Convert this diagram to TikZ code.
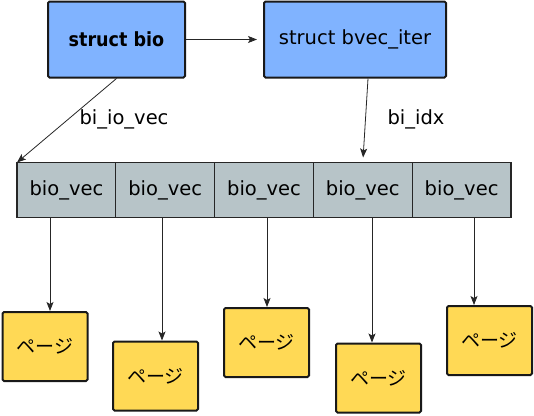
\documentclass[tikz,border=0pt]{standalone}
\usepackage{fontspec}
\setmainfont{DejaVu Sans}
\newfontfamily\condfont[FakeStretch=0.9]{DejaVu Sans}
\newfontfamily\jpfont{Noto Sans CJK JP}
\usetikzlibrary{positioning,arrows.meta}
\definecolor{structblue}{HTML}{80B3FF}
\definecolor{vecgrey}{HTML}{B7C4C8}
\definecolor{pageyellow}{HTML}{FFD955}

\begin{document}
\begin{tikzpicture}[x=1pt,y=-1pt,font=\fontsize{19.5}{23}\selectfont,
    structbox/.style={draw=black!90,line width=2pt,fill=structblue,rounded corners=1.5pt,
        minimum height=76pt,inner sep=0pt},
    vecbox/.style={draw=black!85,line width=1.3pt,fill=vecgrey,minimum width=98.8pt,
        minimum height=55pt,inner sep=0pt,outer sep=0pt},
    pagebox/.style={draw=black!90,line width=2pt,fill=pageyellow,rounded corners=1.5pt,
        minimum width=85pt,minimum height=69pt,inner sep=0pt,font=\jpfont\fontsize{19}{23}\selectfont},
    ptr/.style={-{Stealth[length=9pt,width=7pt,inset=2pt]},line width=0.8pt,black!85}]

    \useasboundingbox (0,0) rectangle (534,415);

    % structs
    \node [structbox,minimum width=137pt,font=\condfont\bfseries\fontsize{19.5}{23}\selectfont] (bio) at (116.5,39.5) {struct bio};
    \node [structbox,minimum width=182pt] (bvec) at (355,39.5) {struct bvec\_iter};
    % vector
    \node [vecbox] (bv1) at (66.4,190) {bio\_vec};
    \node [vecbox,right=0pt of bv1] (bv2) {bio\_vec};
    \node [vecbox,right=0pt of bv2] (bv3) {bio\_vec};
    \node [vecbox,right=0pt of bv3] (bv4) {bio\_vec};
    \node [vecbox,right=0pt of bv4] (bv5) {bio\_vec};
    % pages
    \node [pagebox] (pg1) at (45,346.5) {ページ};
    \node [pagebox] (pg2) at (155.5,376) {ページ};
    \node [pagebox] (pg3) at (266.5,342.5) {ページ};
    \node [pagebox] (pg4) at (378.5,378) {ページ};
    \node [pagebox] (pg5) at (489.5,340.5) {ページ};
    % labels
    \node [anchor=base] (lio) at (124,124) {bi\_io\_vec};
    \node [anchor=base] (lidx) at (416,124) {bi\_idx};
    % edges
    \draw [ptr,shorten >=6pt] (bio) -- (bvec);
    \draw [ptr] (bio.south) -- (bv1.north west);
    \draw [ptr,shorten >=5pt] ([xshift=13pt]bvec.south) -- (bv4.north);
    \draw [ptr] (bv1.south -| 50,0) -- (pg1.north -| 50,0);
    \draw [ptr] (bv2.south -| 162,0) -- (pg2.north -| 162,0);
    \draw [ptr] (bv3.south -| 267,0) -- (pg3.north -| 267,0);
    \draw [ptr] (bv4.south -| 372,0) -- (pg4.north -| 372,0);
    \draw [ptr] (bv5.south -| 474,0) -- (pg5.north -| 474,0);
\end{tikzpicture}
\end{document}
